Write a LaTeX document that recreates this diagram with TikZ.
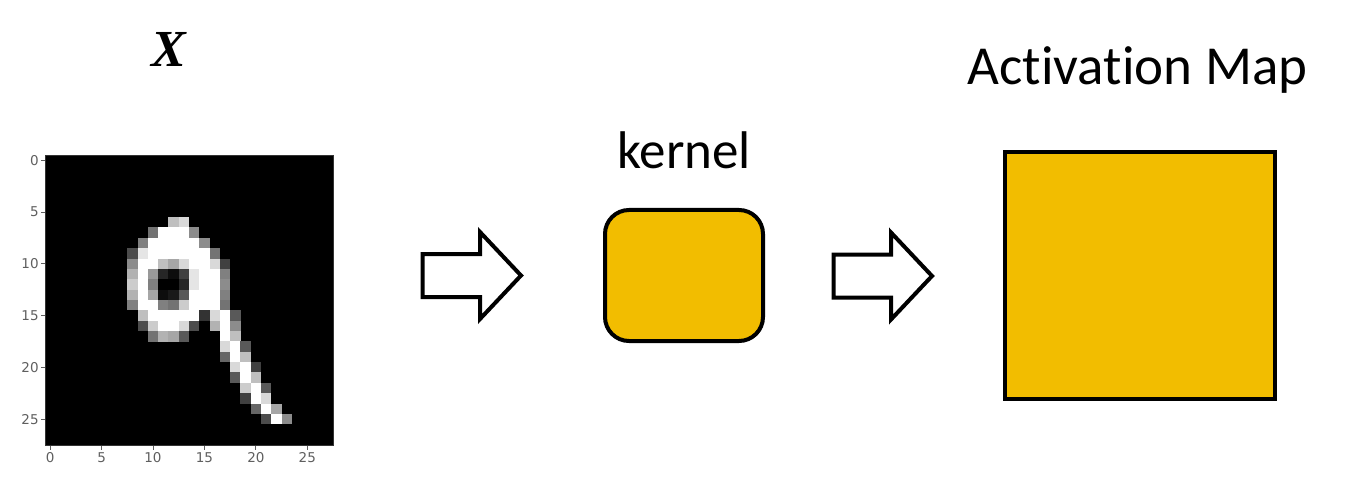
\documentclass[tikz,border=0pt]{standalone}
\usepackage{fontspec}
\usetikzlibrary{calc}
\setmainfont{Carlito}[Ligatures=NoCommon]
\newfontfamily\tickfont{DejaVu Sans}
\newfontfamily\xfont{Liberation Serif}
\definecolor{mapyellow}{RGB}{242,189,0}
\definecolor{tickgray}{RGB}{95,95,95}
\tikzset{
  yellowbox/.style={draw=black, line width=4pt, fill=mapyellow, inner sep=0pt},
  ticklabel/.style={font=\tickfont\fontsize{13.5}{13.5}\selectfont, text=tickgray, inner sep=2pt},
  tickline/.style={draw=tickgray, line width=0.8pt},
  bigtext/.style={font=\fontsize{53}{60}\selectfont, inner sep=0pt, anchor=base},
  blockarrow/.pic={
    \draw[line width=4pt, line join=miter, fill=white]
      (-49,-21.5) -- (8.5,-21.5) -- (8.5,-43.5) -- (49.5,0) -- (8.5,43.5) -- (8.5,21.5) -- (-49,21.5) -- cycle;
  }
}
\begin{document}
\begin{tikzpicture}[x=1pt,y=-1pt]
\useasboundingbox (0,0) rectangle (1345,500);
\fill[white] (0,0) rectangle (1345,500);

% image X
\node[bigtext, font=\xfont\bfseries\itshape\fontsize{52}{60}\selectfont] (xlab) at (169,67) {X};
\node[draw=black!80, line width=0.8pt, fill=black, minimum width=288, minimum height=290, inner sep=0pt, anchor=north west] (img) at (45,155) {};
\foreach \r/\c/\v in {
 6/12/75, 6/13/85,
 7/10/45, 7/11/100, 7/12/100, 7/13/100, 7/14/55,
 8/9/50, 8/10/100, 8/11/100, 8/12/100, 8/13/100, 8/14/100, 8/15/55,
 9/8/30, 9/9/90, 9/10/100, 9/11/100, 9/12/100, 9/13/100, 9/14/100, 9/15/100, 9/16/45,
 10/8/55, 10/9/100, 10/10/100, 10/11/75, 10/12/65, 10/13/85, 10/14/100, 10/15/100, 10/16/85, 10/17/25,
 11/8/70, 11/9/100, 11/10/60, 11/11/15, 11/12/5, 11/13/25, 11/14/90, 11/15/100, 11/16/100, 11/17/50,
 12/8/80, 12/9/100, 12/10/50, 12/13/15, 12/14/90, 12/15/100, 12/16/100, 12/17/55,
 13/8/70, 13/9/100, 13/10/65, 13/11/5, 13/12/10, 13/13/35, 13/14/100, 13/15/100, 13/16/100, 13/17/50,
 14/8/50, 14/9/100, 14/10/100, 14/11/50, 14/12/45, 14/13/80, 14/14/100, 14/15/100, 14/16/100, 14/17/45,
 15/9/75, 15/10/100, 15/11/100, 15/12/100, 15/13/100, 15/14/100, 15/15/20, 15/16/85, 15/17/100, 15/18/35,
 16/9/30, 16/10/80, 16/11/100, 16/12/100, 16/13/85, 16/14/30, 16/16/70, 16/17/100, 16/18/55,
 17/10/45, 17/11/70, 17/12/65, 17/13/35, 17/17/100, 17/18/75,
 18/17/85, 18/18/100, 18/19/35,
 19/17/40, 19/18/100, 19/19/75,
 20/18/85, 20/19/100, 20/20/25,
 21/18/35, 21/19/100, 21/20/75,
 22/19/80, 22/20/100, 22/21/35,
 23/19/25, 23/20/100, 23/21/85,
 24/20/40, 24/21/100, 24/22/65,
 25/21/30, 25/22/100, 25/23/55}
  \fill[white!\v!black] ($(img.north west)+(\c*10.286,\r*10.357)$) rectangle ++(10.4,10.45);
\foreach \t in {0,5,10,15,20,25} {
  \draw[tickline] ($(img.south west)+(\t*10.286+5.14,0)$) -- ++(0,4)
     node[ticklabel, anchor=north] (xt\t) {\t};
  \draw[tickline] ($(img.north west)+(0,\t*10.357+5.18)$) -- ++(-4,0)
     node[ticklabel, anchor=east] (yt\t) {\t};
}

% arrows
\coordinate (a1) at (471.5,275.5);
\coordinate (a2) at (882.5,276);
\pic at (a1) {blockarrow};
\pic at (a2) {blockarrow};

% kernel
\node[bigtext] (klab) at (684,168) {kernel};
\node[yellowbox, rounded corners=24pt, minimum width=158, minimum height=131] (kernel) at (684,275.5) {};

% activation map
\node[bigtext, font=\fontsize{55}{60}\selectfont] (alab) at (1137.5,85) {Activation Map};
\node[yellowbox, minimum width=270, minimum height=246] (amap) at (1140,275.5) {};
\end{tikzpicture}
\end{document}
